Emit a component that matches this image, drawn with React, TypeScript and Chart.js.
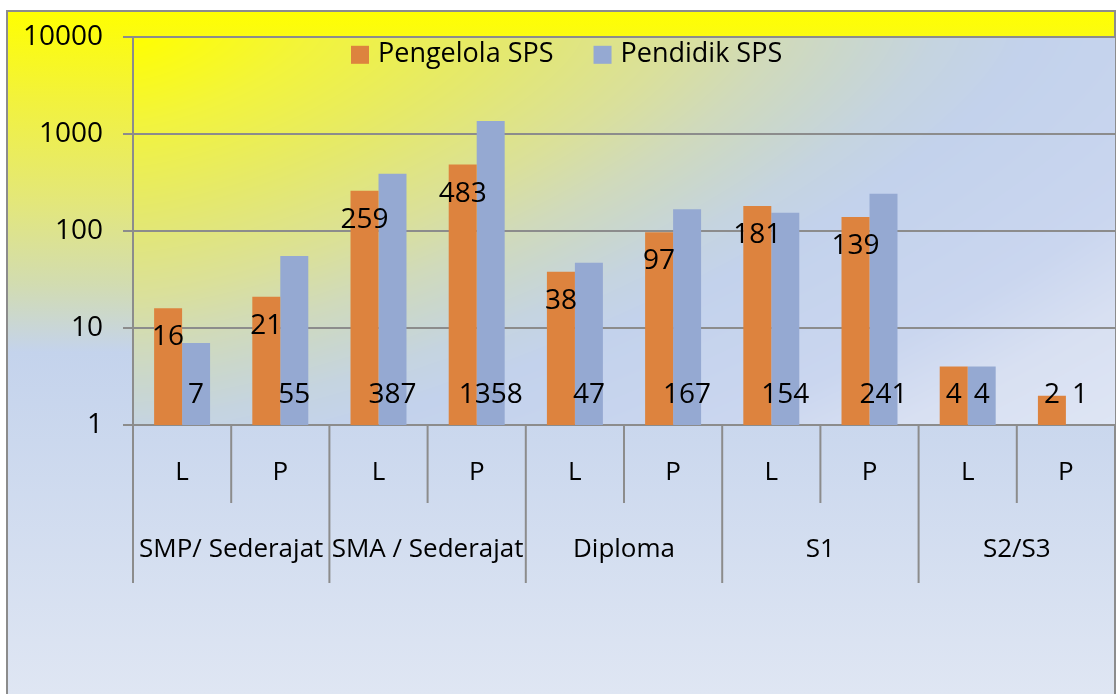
import React, { useEffect, useRef } from "react";
import { Chart, registerables } from "chart.js";

Chart.register(...registerables);

const seriesNames = ["Pengelola SPS", "Pendidik SPS"];
const genderLabels = ["L", "P", "L", "P", "L", "P", "L", "P", "L", "P"];
const groupLabels = ["SMP/ Sederajat", "SMA / Sederajat", "Diploma", "S1", "S2/S3"];
const pengelola = [16, 21, 259, 483, 38, 97, 181, 139, 4, 2];
const pendidik = [7, 55, 387, 1358, 47, 167, 154, 241, 4, 1];
const yTicks = [1, 10, 100, 1000, 10000];

const COLORS = ["#dd833e", "#95a9d2"];
const GRID = "#8c8c8c";
const FONT = "'Open Sans', sans-serif";

const W = 1116;
const H = 694;

// plot-area fill: gradient spreading from the top-left corner
const PLOT_STOPS: [number, string][] = [
  [0, "#ffff00"],
  [0.25, "#f2f43c"],
  [0.5, "#e5e96a"],
  [0.75, "#dae09a"],
  [0.9, "#d0dabb"],
  [1.0, "#cad7cc"],
  [1.12, "#c5d4e0"],
  [1.25, "#c3d2ec"],
  [1.6, "#cad6ef"],
  [1.8, "#d8e0f2"],
  [2.1, "#dfe6f4"],
];

const hexRgb = (h: string) => [
  parseInt(h.slice(1, 3), 16),
  parseInt(h.slice(3, 5), 16),
  parseInt(h.slice(5, 7), 16),
];

function stopColor(t: number, stops: [number, string][]) {
  const rgb = stops.map((s) => hexRgb(s[1]));
  if (t <= stops[0][0]) return rgb[0];
  for (let i = 1; i < stops.length; i++) {
    if (t <= stops[i][0]) {
      const f = (t - stops[i - 1][0]) / (stops[i][0] - stops[i - 1][0]);
      return rgb[i].map((c, k) => rgb[i - 1][k] + (c - rgb[i - 1][k]) * f);
    }
  }
  return rgb[rgb.length - 1];
}

const backgroundPlugin = {
  id: "bg",
  beforeDraw(chart: any) {
    const { ctx, chartArea } = chart;
    ctx.save();
    ctx.fillStyle = "#ffffff";
    ctx.fillRect(0, 0, W, H);
    // outer frame
    const g = ctx.createLinearGradient(0, 10, 0, H);
    g.addColorStop(0, "#ffff00");
    g.addColorStop(0.13, "#f2f23c");
    g.addColorStop(0.28, "#e3e77a");
    g.addColorStop(0.4, "#d2dcb0");
    g.addColorStop(0.5, "#c4d3ec");
    g.addColorStop(1, "#dfe6f3");
    ctx.fillStyle = g;
    ctx.fillRect(6, 10, W - 7, H);
    ctx.strokeStyle = GRID;
    ctx.lineWidth = 2;
    ctx.strokeRect(7, 11, W - 8, H + 10);
    ctx.restore();
    // plot area
    const left = Math.round(chartArea.left);
    const top = Math.round(chartArea.top);
    const w = Math.round(chartArea.right) - left;
    const h = Math.round(chartArea.bottom) - top;
    const img = ctx.createImageData(w, h);
    const a = 717, b = 344, p = 1.4;
    for (let y = 0; y < h; y++) {
      for (let x = 0; x < w; x++) {
        const t = Math.pow(Math.pow(x / a, p) + Math.pow(y / b, p), 1 / p);
        const c = stopColor(t, PLOT_STOPS);
        const o = (y * w + x) * 4;
        img.data[o] = c[0];
        img.data[o + 1] = c[1];
        img.data[o + 2] = c[2];
        img.data[o + 3] = 255;
      }
    }
    ctx.putImageData(img, left, top);
  },
};

const labelsPlugin = {
  id: "valueLabels",
  afterDatasetsDraw(chart: any) {
    const { ctx, chartArea } = chart;
    const yScale = chart.scales.y;
    ctx.save();
    ctx.font = `28px ${FONT}`;
    ctx.fillStyle = "#000";
    ctx.textAlign = "center";
    ctx.textBaseline = "middle";
    chart.data.datasets.forEach((ds: any, di: number) => {
      const meta = chart.getDatasetMeta(di);
      meta.data.forEach((el: any, i: number) => {
        const v = ds.data[i];
        const baseY = chartArea.bottom - 30;
        let y = baseY;
        if (di === 0) y = Math.min(yScale.getPixelForValue(v / 2), baseY);
        ctx.fillText(String(v), el.x, y);
      });
    });
    ctx.restore();
  },
};

const xAxisPlugin = {
  id: "xAxisGroups",
  afterDraw(chart: any) {
    const { ctx, chartArea } = chart;
    const x = chart.scales.x;
    const n = genderLabels.length;
    const catW = (chartArea.right - chartArea.left) / n;
    const b = chartArea.bottom;
    ctx.save();
    ctx.strokeStyle = GRID;
    ctx.lineWidth = 2;
    for (let i = 0; i < n; i++) {
      const px = x.getPixelForValue(i) - catW / 2;
      const len = i % 2 === 0 ? 158 : 78;
      ctx.beginPath();
      ctx.moveTo(px, b);
      ctx.lineTo(px, b + len);
      ctx.stroke();
    }
    ctx.fillStyle = "#000";
    ctx.textAlign = "center";
    ctx.textBaseline = "middle";
    ctx.font = `26px ${FONT}`;
    genderLabels.forEach((l, i) => {
      ctx.fillText(l, x.getPixelForValue(i), b + 48);
    });
    groupLabels.forEach((g, gi) => {
      const cx = (x.getPixelForValue(gi * 2) + x.getPixelForValue(gi * 2 + 1)) / 2;
      ctx.fillText(g, cx, b + 125);
    });
    // legend
    ctx.font = `27px ${FONT}`;
    let lx = chartArea.left + 218;
    const ly = chartArea.top + 18;
    seriesNames.forEach((name, i) => {
      ctx.fillStyle = COLORS[i];
      ctx.fillRect(lx, ly - 9, 18, 18);
      ctx.fillStyle = "#000";
      ctx.textAlign = "left";
      ctx.fillText(name, lx + 27, ly);
      lx += 27 + ctx.measureText(name).width + 40;
    });
    ctx.restore();
  },
};

export default function App() {
  const ref = useRef<HTMLCanvasElement | null>(null);
  useEffect(() => {
    if (!ref.current) return;
    const chart = new Chart(ref.current, {
      type: "bar",
      data: {
        labels: genderLabels,
        datasets: [
          { label: seriesNames[0], data: pengelola, backgroundColor: COLORS[0], borderWidth: 0 },
          { label: seriesNames[1], data: pendidik, backgroundColor: COLORS[1], borderWidth: 0 },
        ],
      },
      options: {
        responsive: false,
        animation: false,
        devicePixelRatio: 1,
        layout: { padding: { top: 35, left: 0, right: 1, bottom: 0 } },
        datasets: { bar: { barPercentage: 1, categoryPercentage: 0.57 } },
        plugins: { legend: { display: false }, tooltip: { enabled: false } },
        scales: {
          x: {
            offset: true,
            ticks: { display: false },
            grid: { display: false },
            border: { display: false },
            afterFit: (s: any) => { s.height = H - 425; },
          },
          y: {
            type: "logarithmic",
            min: 1,
            max: 10000,
            afterBuildTicks: (s: any) => { s.ticks = yTicks.map((v) => ({ value: v })); },
            afterFit: (s: any) => { s.width = 133; },
            ticks: {
              callback: (v: any) => String(v),
              color: "#000",
              font: { family: FONT, size: 28 },
              padding: 20,
            },
            grid: { color: GRID, lineWidth: 2, tickLength: 10 },
            border: { color: GRID, width: 2 },
          },
        },
      },
      plugins: [backgroundPlugin, labelsPlugin, xAxisPlugin],
    } as any);
    return () => chart.destroy();
  }, []);
  return (
    <div style={{ position: "absolute", left: 0, top: 0, width: W, height: H }}>
      <canvas ref={ref} width={W} height={H} style={{ width: W, height: H, display: "block" }} />
    </div>
  );
}
